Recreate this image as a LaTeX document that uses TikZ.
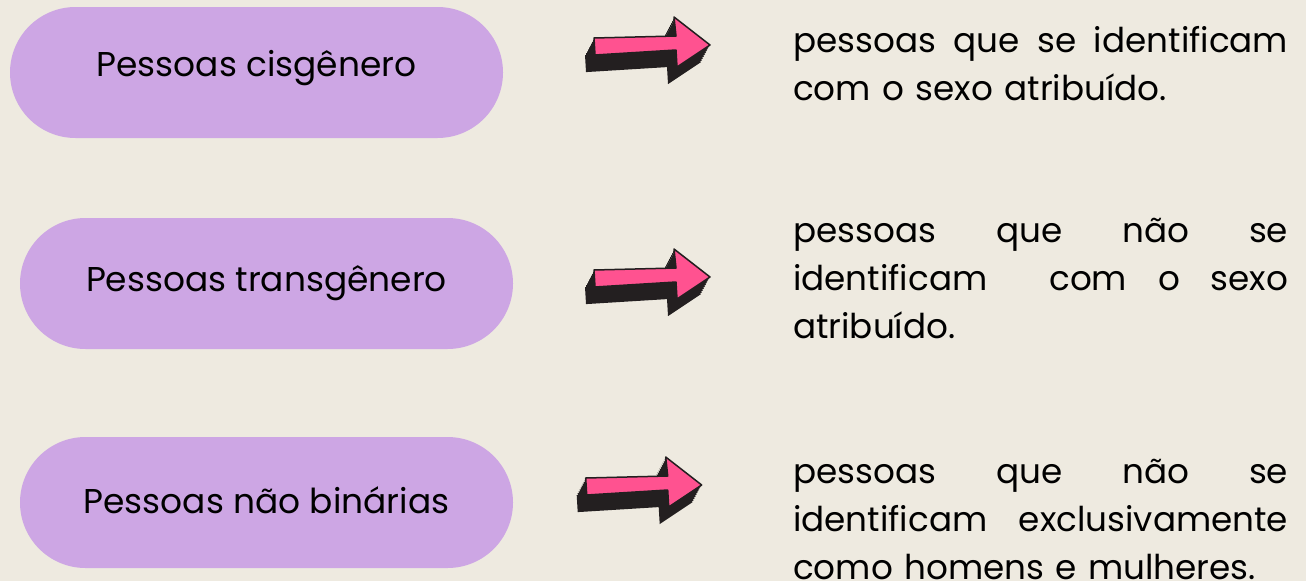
\documentclass[tikz,border=0pt]{standalone}
\usepackage{fontspec}
\setmainfont{Poppins}
\usetikzlibrary{shapes.misc}

\definecolor{bgcream}{HTML}{EEEAE0}
\definecolor{lilac}{HTML}{CDA6E4}
\definecolor{hotpink}{HTML}{FF5290}
\definecolor{inkblack}{HTML}{231F20}

\tikzset{
  pill/.style={rounded rectangle, fill=lilac, minimum width=493pt, minimum height=131pt,
    inner sep=0pt, text height=20pt, text depth=13pt, font=\fontsize{34.4}{40}\selectfont},
  meaning/.style={anchor=base west, text width=495pt, align=left, inner sep=0pt,
    font=\fontsize{34.2}{48}\selectfont},
  fatarrow/.pic={
    % extruded dark side
    \foreach \s in {0,1,...,9}
      \fill[inkblack, shift={(-\s,1.9*\s)}] (-116,-7) -- (-34,-9) -- (-36,-28) -- (0,0)
        -- (-33,22) -- (-34,5) -- (-115,10) -- cycle;
    % pink face
    \filldraw[fill=hotpink, draw=inkblack, line width=1.5pt, line join=round]
      (-116,-7) -- (-34,-9) -- (-36,-28) -- (0,0) -- (-33,22) -- (-34,5) -- (-115,10) -- cycle;
  }
}

\begin{document}
\begin{tikzpicture}[x=1pt, y=-1pt]
\fill[bgcream] (0,0) rectangle (1306,581);
\useasboundingbox (0,0) rectangle (1306,581);

\node[pill] (cis) at (256.5,72.5) {Pessoas cisgênero};
\node[pill, text height=22pt, text depth=6pt] (trans) at (266.5,283.5) {Pessoas transgênero};
\node[pill, text height=24pt, text depth=3pt] (nb) at (266.5,502.5) {Pessoas não binárias};

\coordinate (tipcis) at (710,45);
\coordinate (tiptrans) at (710,277);
\coordinate (tipnb) at (701.7,485);
\pic at (tipcis) {fatarrow};
\pic at (tiptrans) {fatarrow};
\pic at (tipnb) {fatarrow};

\node[meaning] (defcis) at (793,52) {pessoas\hfill que\hfill se\hfill identificam\\
  com o sexo atribuído.};
\node[meaning] (deftrans) at (793,242) {pessoas\hfill que\hfill não\hfill se\\
  identificam\hfill\hfill com\hfill o\hfill sexo\\
  atribuído.};
\node[meaning] (defnb) at (793,483) {pessoas\hfill que\hfill não\hfill se\\
  identificam\hfill exclusivamente\\
  como homens e mulheres.};
%\draw (cis) -- (defcis);
\end{tikzpicture}
\end{document}
